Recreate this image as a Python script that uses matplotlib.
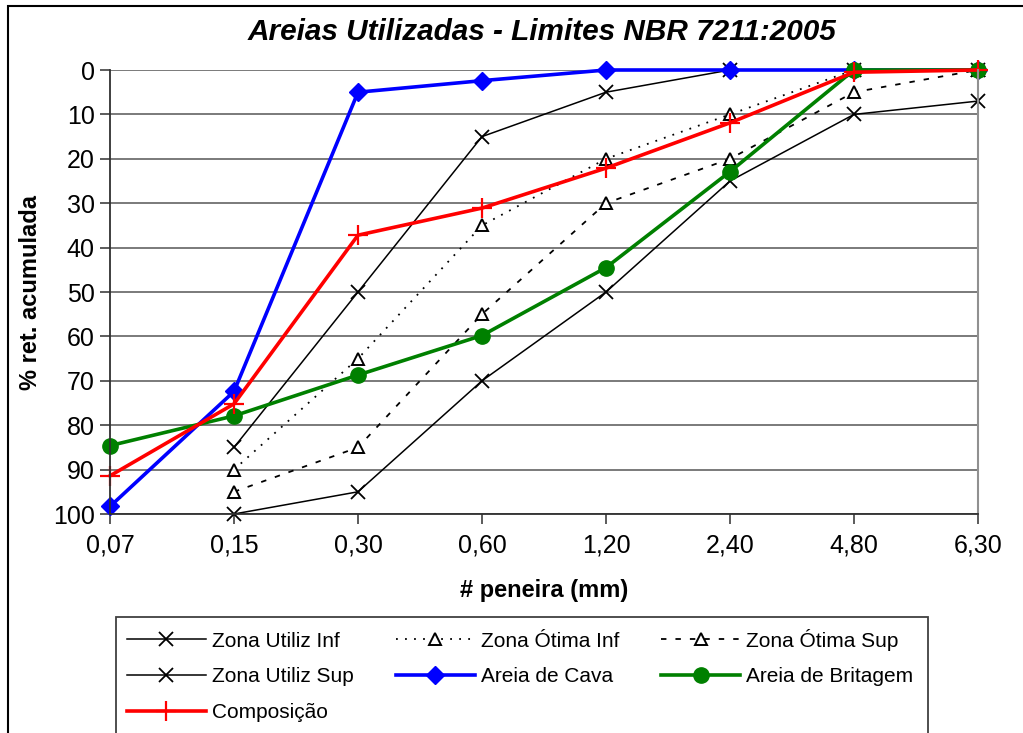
import matplotlib.pyplot as plt
from matplotlib.patches import Rectangle

# dados (% retida acumulada)
peneiras = ['0,07', '0,15', '0,30', '0,60', '1,20', '2,40', '4,80', '6,30']
zona_utiliz_inf = [None, 100, 95, 70, 50, 25, 10, 7]
zona_otima_inf = [None, 90, 65, 35, 20, 10, 0, 0]
zona_otima_sup = [None, 95, 85, 55, 30, 20, 5, 0]
zona_utiliz_sup = [None, 85, 50, 15, 5, 0, 0, 0]
areia_cava = [98.3, 72.4, 5.0, 2.4, 0, 0, 0, 0]
areia_britagem = [84.6, 77.9, 68.7, 59.8, 44.5, 22.9, 0, 0]
composicao = [91.4, 75.2, 37.2, 31.1, 22.1, 11.9, 0.5, 0]


def serie(valores):
    xs = [i for i, v in enumerate(valores) if v is not None]
    ys = [v for v in valores if v is not None]
    return xs, ys


def main():
    plt.rcParams['font.family'] = ['Liberation Sans', 'DejaVu Sans']

    fig = plt.figure(figsize=(10.23, 7.33), dpi=100)
    ax = fig.add_axes([110 / 1023, 1 - 514 / 733, 868 / 1023, 444 / 733])

    # moldura externa
    fig.patches.append(Rectangle((8 / 1023, -0.05), 1.1, 1 - 6 / 733 + 0.05,
                                 transform=fig.transFigure, fill=False,
                                 edgecolor='black', linewidth=1.5))

    h = {}
    x, y = serie(zona_utiliz_inf)
    h['Zona Utiliz Inf'], = ax.plot(x, y, color='black', lw=1.1, marker='x',
                                    ms=10, mew=1.3, clip_on=False,
                                    label='Zona Utiliz Inf')
    x, y = serie(zona_otima_inf)
    h['Zona Ótima Inf'], = ax.plot(x, y, color='black', lw=1.3, ls=(0, (1, 4)),
                                   marker='^', ms=8, mfc='white', mew=1.4,
                                   clip_on=False, label='Zona Ótima Inf')
    x, y = serie(zona_otima_sup)
    h['Zona Ótima Sup'], = ax.plot(x, y, color='black', lw=1.3, ls=(0, (3, 5)),
                                   marker='^', ms=8, mfc='white', mew=1.4,
                                   clip_on=False, label='Zona Ótima Sup')
    x, y = serie(zona_utiliz_sup)
    h['Zona Utiliz Sup'], = ax.plot(x, y, color='black', lw=1.1, marker='x',
                                    ms=10, mew=1.3, clip_on=False,
                                    label='Zona Utiliz Sup')
    x, y = serie(areia_cava)
    h['Areia de Cava'], = ax.plot(x, y, color='#0000ff', lw=2.6, marker='D',
                                  ms=9, clip_on=False, label='Areia de Cava')
    x, y = serie(areia_britagem)
    h['Areia de Britagem'], = ax.plot(x, y, color='#008000', lw=2.6, marker='o',
                                      ms=11, clip_on=False,
                                      label='Areia de Britagem')
    x, y = serie(composicao)
    h['Composição'], = ax.plot(x, y, color='#ff0000', lw=2.6, marker='+',
                               ms=15, mew=1.6, clip_on=False,
                               label='Composição')

    ax.set_xlim(0, 7)
    ax.set_ylim(100, 0)
    ax.set_xticks(range(len(peneiras)))
    ax.set_xticklabels(peneiras)
    ax.set_yticks(range(0, 101, 10))
    ax.tick_params(labelsize=18, length=7, width=1.2, color='#404040')
    ax.tick_params(axis='x', pad=7)
    ax.tick_params(axis='y', pad=4)
    ax.grid(axis='y', color='#707070', lw=1.3)
    ax.set_axisbelow(True)
    ax.spines['top'].set_visible(False)
    ax.spines['right'].set_color('#909090')
    ax.spines['right'].set_linewidth(1.5)
    ax.spines['left'].set_color('#303030')
    ax.spines['left'].set_linewidth(1.3)
    ax.spines['bottom'].set_color('#303030')
    ax.spines['bottom'].set_linewidth(1.3)

    fig.text(542 / 1023, 1 - 32 / 733, 'Areias Utilizadas - Limites NBR 7211:2005',
             fontsize=21.4, fontweight='bold', fontstyle='italic',
             ha='center', va='center')
    fig.text(544 / 1023, 1 - 590 / 733, '# peneira (mm)', fontsize=17,
             fontweight='bold', ha='center', va='center')
    fig.text(31 / 1023, 1 - 292 / 733, '% ret. acumulada', fontsize=17,
             fontweight='bold', ha='center', va='center', rotation=90)

    # legenda
    fig.patches.append(Rectangle((116 / 1023, -0.05), 812 / 1023, 1 - 617 / 733 + 0.05,
                                 transform=fig.transFigure, fill=False,
                                 edgecolor='#404040', linewidth=1.3))
    ordem = ['Zona Utiliz Inf', 'Zona Utiliz Sup', 'Composição',
             'Zona Ótima Inf', 'Areia de Cava',
             'Zona Ótima Sup', 'Areia de Britagem']
    fig.legend([h[k] for k in ordem], ordem, ncol=3, frameon=False,
               loc='upper left', bbox_to_anchor=(110 / 1023, 1 - 612 / 733),
               fontsize=15, handlelength=3.8, handletextpad=0.3,
               columnspacing=2.0, labelspacing=0.8, borderpad=0.3)

    plt.savefig('out.png', dpi=100)


if __name__ == '__main__':
    main()
